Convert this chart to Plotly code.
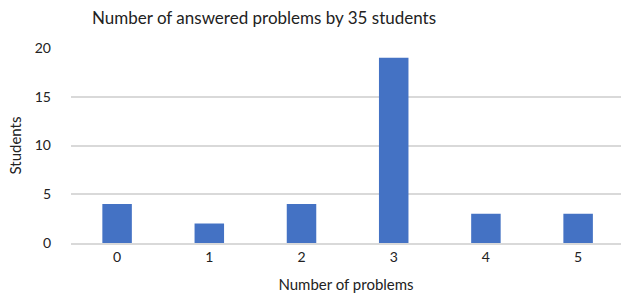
import plotly.graph_objects as go

categories = ["0", "1", "2", "3", "4", "5"]
students = [4, 2, 4, 19, 3, 3]
y_ticks = [0, 5, 10, 15, 20]

fig = go.Figure(go.Bar(x=categories, y=students, marker=dict(color="#4472C4", line=dict(width=0)), width=0.32))

fig.update_layout(
    width=621, height=295,
    margin=dict(l=71, r=0, t=48, b=52),
    paper_bgcolor="white", plot_bgcolor="white",
    font=dict(family="Lato", color="#222222"),
    title=dict(text="Number of answered problems by 35 students", x=264/621, xanchor="center", y=1 - 18/295, yanchor="middle",
               font=dict(size=17, color="#222222")),
    showlegend=False,
)
fig.update_xaxes(type="category", range=[-0.5, 5.465], showgrid=False, showline=True, linecolor="#d9d9d9", linewidth=1.5,
                 ticks="", tickfont=dict(size=14), title=dict(text="Number of problems", font=dict(size=15), standoff=16))
fig.update_yaxes(range=[0, 20], tickvals=y_ticks, showgrid=True, gridcolor="#d9d9d9", gridwidth=1.5,
                 zeroline=False, showline=False, ticks="", tickfont=dict(size=14), ticklabelstandoff=19,
                 title=dict(text="Students", font=dict(size=15), standoff=9))

fig.write_html("out.html", config={"displayModeBar": False}, post_script="document.body.style.margin='0';")
